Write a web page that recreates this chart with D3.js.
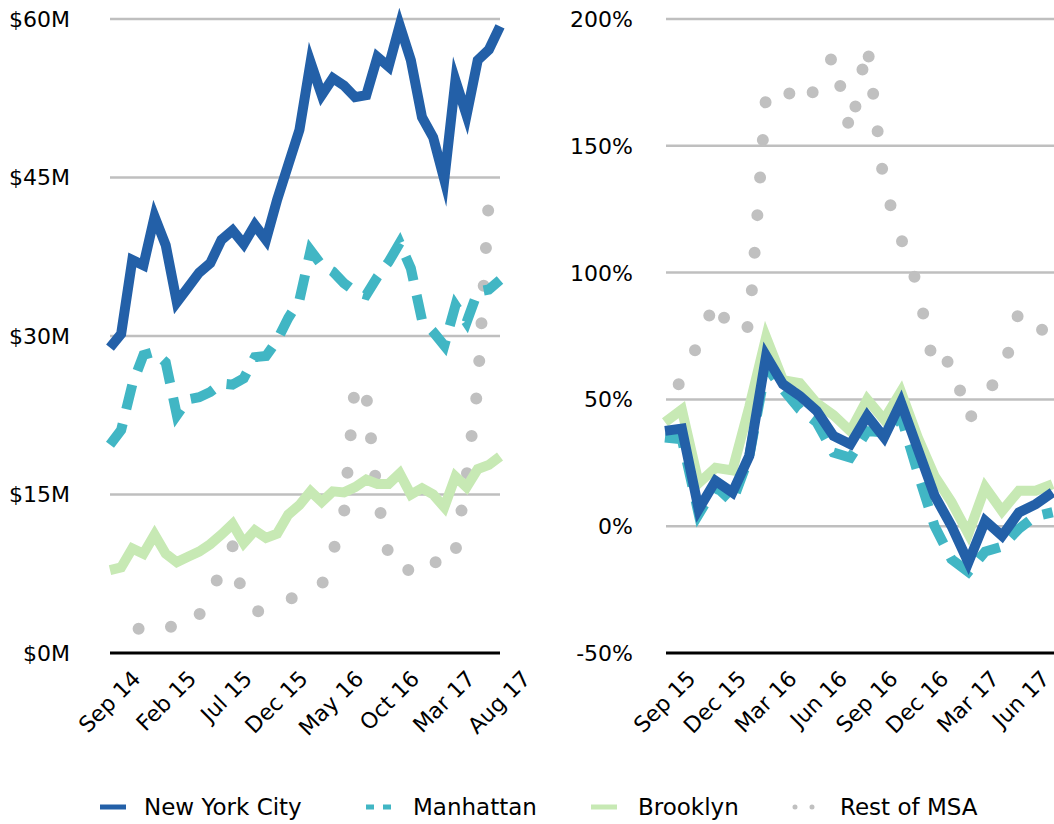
<!DOCTYPE html>
<html>
<head>
<meta charset="utf-8">
<script src="https://cdn.jsdelivr.net/npm/d3@7"></script>
<style>
  body { margin: 0; background: #fff; }
  text { font-family: "DejaVu Sans", sans-serif; fill: #000; }
</style>
</head>
<body>
<svg width="1054" height="824"></svg>
<script>
// months, Sep 14 .. Aug 17
var months = ["Sep 14","Oct 14","Nov 14","Dec 14","Jan 15","Feb 15","Mar 15","Apr 15","May 15","Jun 15","Jul 15","Aug 15",
  "Sep 15","Oct 15","Nov 15","Dec 15","Jan 16","Feb 16","Mar 16","Apr 16","May 16","Jun 16","Jul 16","Aug 16",
  "Sep 16","Oct 16","Nov 16","Dec 16","Jan 17","Feb 17","Mar 17","Apr 17","May 17","Jun 17","Jul 17","Aug 17"];
var growthMonths = months.slice(12);

var leftTicks = ["Sep 14","Feb 15","Jul 15","Dec 15","May 16","Oct 16","Mar 17","Aug 17"];
var rightTicks = ["Sep 15","Dec 15","Mar 16","Jun 16","Sep 16","Dec 16","Mar 17","Jun 17"];
var leftYTicks = [0, 15, 30, 45, 60];
var rightYTicks = [-50, 0, 50, 100, 150, 200];

// $M, monthly
var nycLevel = [28.9,30.2,37.2,36.7,41.3,38.6,33.2,34.6,36.0,36.9,39.1,40.0,38.7,40.5,39.1,42.9,46.2,49.5,55.9,52.8,54.4,53.7,52.6,52.8,56.4,55.5,59.4,56.1,50.7,48.8,44.8,54.2,50.9,56.1,57.1,59.3];
var manhattanLevel = [19.7,21.1,25.4,28.2,28.5,27.5,22.5,24.0,24.2,24.7,25.5,25.4,26.0,28.0,28.1,29.6,31.7,33.4,38.1,36.7,36.1,35.0,34.2,33.9,35.6,37.0,38.8,36.4,31.5,30.4,29.1,32.9,31.3,34.2,34.4,35.3];
var brooklynLevel = [7.85,8.1,9.9,9.4,11.2,9.4,8.6,9.1,9.6,10.3,11.2,12.2,10.4,11.6,10.9,11.3,13.1,14.0,15.3,14.3,15.3,15.2,15.7,16.4,16.0,16.0,17.0,15.0,15.6,15.0,13.8,16.7,15.7,17.4,17.8,18.6];
var restLevel = [3.2,2.5,2.4,2.2,2.8,2.1,2.9,2.4,3.6,5.6,7.8,10.1,4.7,3.9,4.1,5.0,5.0,5.6,5.5,6.4,9.5,13.2,25.6,24.4,14.8,9.3,7.4,8.0,7.4,8.8,7.8,9.6,16.7,25.2,43.0,41.0];

// year over year growth, %
var nycGrowth = [37.6,38.5,6.7,17.9,13.3,27.7,67.2,56,51.4,45.5,35.6,32.3,43.5,35,48.8,30.4,12,0.1,-14.3,2.1,-3.8,5.4,8.7,13.3];
var manhattanGrowth = [35,34.3,4.7,15.8,9.5,27.6,63,54,46,41,29,27,37.5,37,43.4,21,0,-13,-18,-10,-8,-1,4,5.5];
var brooklynGrowth = [41,46,17,23,22,47,74.5,57.6,56.4,48.5,43.8,37.5,50,42,53,35,19.7,9.5,-3,15.3,6,14,14,16.6];
var restGrowth = [45,58.5,72.4,89.5,75,79,170,174,165,173,186,155,190,134.5,113.6,94.6,61,66,41.4,53,59,84.8,82.8,68.6];

var seriesNames = ["New York City", "Manhattan", "Brooklyn", "Rest of MSA"];

var svg = d3.select("svg");

var styles = {
  "New York City": { color: "#2360a8", width: 10, dash: null, cap: "butt" },
  "Manhattan": { color: "#41b6c4", width: 10, dash: "25,15", cap: "butt" },
  "Brooklyn": { color: "#c7e9b4", width: 10, dash: null, cap: "butt" },
  "Rest of MSA": { color: "#c0c0c0", width: 12, dash: "0,37.7", cap: "round", offset: 6.7 }
};

function drawPanel(opt) {
  var x = d3.scalePoint().domain(opt.months).range(opt.xRange);
  var y = d3.scaleLinear().domain(opt.yDomain).range([653, 19]);
  var g = svg.append("g");

  // gridlines
  g.selectAll("line.grid")
    .data(opt.yTicks.slice(1))
    .enter().append("line")
    .attr("x1", opt.gridX[0]).attr("x2", opt.gridX[1])
    .attr("y1", function(d) { return y(d); })
    .attr("y2", function(d) { return y(d); })
    .style("stroke", "#bfbfbf")
    .style("stroke-width", 2.5);

  // y labels
  g.selectAll("text.ylab")
    .data(opt.yTicks)
    .enter().append("text")
    .attr("x", opt.yLabelX)
    .attr("y", function(d) { return y(d); })
    .attr("dy", "0.36em")
    .attr("text-anchor", "end")
    .style("font-size", "22px")
    .text(opt.yFormat);

  // series, back to front
  var order = [
    ["Rest of MSA", opt.data[3]],
    ["Brooklyn", opt.data[2]],
    ["Manhattan", opt.data[1]],
    ["New York City", opt.data[0]]
  ];
  var line = d3.line()
    .x(function(d, i) { return x(opt.months[i]); })
    .y(function(d) { return y(d); });

  order.forEach(function(s) {
    var st = styles[s[0]];
    g.append("path")
      .datum(s[1])
      .attr("d", line)
      .style("fill", "none")
      .style("stroke", st.color)
      .style("stroke-width", st.width)
      .style("stroke-linecap", st.cap)
      .style("stroke-linejoin", "miter")
      .style("stroke-miterlimit", 10)
      .style("stroke-dasharray", st.dash)
      .style("stroke-dashoffset", st.offset || 0);
  });

  // axis line
  g.append("line")
    .attr("x1", opt.gridX[0]).attr("x2", opt.gridX[1])
    .attr("y1", y(opt.yDomain[0])).attr("y2", y(opt.yDomain[0]))
    .style("stroke", "#000")
    .style("stroke-width", 3);

  // x labels
  g.selectAll("text.xlab")
    .data(opt.xTicks)
    .enter().append("text")
    .attr("text-anchor", "end")
    .attr("transform", function(d) {
      return "translate(" + (x(d) + 32) + ",680) rotate(-45)";
    })
    .style("font-size", "22px")
    .text(function(d) { return d; });
}

drawPanel({
  months: months,
  xRange: [110, 500],
  gridX: [110, 500],
  yDomain: [0, 60],
  yTicks: leftYTicks,
  yLabelX: 70,
  yFormat: function(d) { return "$" + d + "M"; },
  xTicks: leftTicks,
  data: [nycLevel, manhattanLevel, brooklynLevel, restLevel]
});

drawPanel({
  months: growthMonths,
  xRange: [665, 1052.6],
  gridX: [666, 1054],
  yDomain: [-50, 200],
  yTicks: rightYTicks,
  yLabelX: 633,
  yFormat: function(d) { return d + "%"; },
  xTicks: rightTicks,
  data: [nycGrowth, manhattanGrowth, brooklynGrowth, restGrowth]
});

// legend
var legendPos = [
  { name: "New York City", x: 100, tx: 144 },
  { name: "Manhattan", x: 366, tx: 413 },
  { name: "Brooklyn", x: 591, tx: 638 },
  { name: "Rest of MSA", x: 795, tx: 840 }
];
var legend = svg.append("g");
legendPos.forEach(function(l) {
  var st = styles[l.name];
  var sw = legend.append("line")
    .attr("x1", l.x).attr("x2", l.x + (l.name == "Rest of MSA" ? 18 : (l.name == "Manhattan" ? 25 : 26)))
    .attr("y1", 807).attr("y2", 807)
    .style("stroke", st.color)
    .style("stroke-width", l.name == "Rest of MSA" ? 5 : 5);
  if (l.name == "Manhattan") sw.style("stroke-dasharray", "8,9");
  if (l.name == "Rest of MSA") sw.style("stroke-dasharray", "0,17").style("stroke-linecap", "round");
  legend.append("text")
    .attr("x", l.tx).attr("y", 815)
    .style("font-size", "23px")
    .text(l.name);
});
</script>
</body>
</html>
